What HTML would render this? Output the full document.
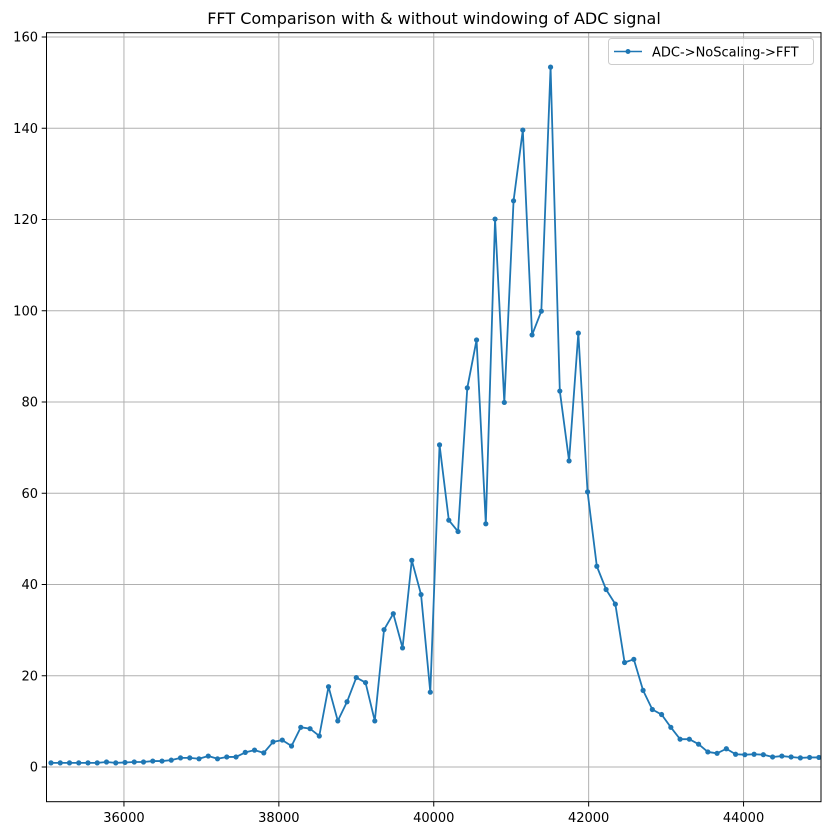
<!DOCTYPE html>
<html><head><meta charset="utf-8"><style>
html,body{margin:0;padding:0;background:#fff;}
svg{display:block;font-family:"DejaVu Sans","Liberation Sans",sans-serif;}
</style></head><body>
<svg id="chart" width="831" height="836" viewBox="0 0 831 836" xmlns="http://www.w3.org/2000/svg">
<rect width="831" height="836" fill="#fff"/>
<text x="434" y="24" text-anchor="middle" font-size="16" fill="#000">FFT Comparison with &amp; without windowing of ADC signal</text>
<g id="grid"></g>
<g id="series"></g>
<rect x="46.5" y="32.7" width="774.5" height="769" fill="none" stroke="#000" stroke-width="1"/>
<g id="ticks"></g>
<g>
<rect x="608.5" y="38.5" width="205" height="26" rx="3" fill="#fff" fill-opacity="0.8" stroke="#ccc"/>
<line x1="614" y1="51.5" x2="642" y2="51.5" stroke="#1f77b4" stroke-width="1.5"/>
<circle cx="628" cy="51.5" r="2.5" fill="#1f77b4"/>
<text x="652" y="56.5" font-size="13" fill="#000">ADC-&gt;NoScaling-&gt;FFT</text>
</g>
</svg>
<script>
const freqStart = 35058;
const freqStep = 119.45;
const magnitudes = [0.9,0.9,0.9,0.9,0.9,0.9,1.1,0.9,1.0,1.1,1.1,1.3,1.3,1.5,2.0,2.0,1.8,2.4,1.8,2.2,2.2,3.2,3.7,3.1,5.5,5.9,4.6,8.7,8.4,6.8,17.6,10.1,14.3,19.6,18.5,10.1,30.1,33.6,26.1,45.3,37.8,16.4,70.6,54.1,51.6,83.1,93.6,53.3,120.1,79.9,124.1,139.6,94.7,99.9,153.4,82.4,67.1,95.1,60.3,44.0,38.9,35.7,22.9,23.6,16.8,12.6,11.5,8.7,6.1,6.1,5.0,3.3,3.0,4.0,2.8,2.7,2.8,2.7,2.2,2.4,2.2,2.0,2.1,2.1];
const xTicks = [36000,38000,40000,42000,44000];
const yTicks = [0,20,40,60,80,100,120,140,160];
const NS="http://www.w3.org/2000/svg";
const X0=46.5,X1=821,XMIN=35000,XMAX=45000;
const Y0=767,YPX=4.5625;
function sx(v){return X0+(v-XMIN)*(X1-X0)/(XMAX-XMIN);}
function sy(v){return Y0-v*YPX;}
function mk(tag,attrs,parent){const e=document.createElementNS(NS,tag);for(const k in attrs)e.setAttribute(k,attrs[k]);parent.appendChild(e);return e;}
const grid=document.getElementById('grid'),ticks=document.getElementById('ticks'),series=document.getElementById('series');
xTicks.forEach(t=>{
  const x=sx(t);
  const g=mk('line',{x1:x,y1:32.7,x2:x,y2:801.7,stroke:'#b0b0b0','stroke-width':1},grid);
  
  
  mk('line',{x1:x,y1:801.7,x2:x,y2:806.5,stroke:'#000'},ticks);
  const tx=mk('text',{x:x,y:822,'text-anchor':'middle','font-size':13,fill:'#000'},ticks);
  tx.textContent=t;
  
  
});
yTicks.forEach(t=>{
  const y=sy(t);
  const g=mk('line',{x1:46.5,y1:y,x2:821,y2:y,stroke:'#b0b0b0','stroke-width':1},grid);
  
  
  mk('line',{x1:41.7,y1:y,x2:46.5,y2:y,stroke:'#000'},ticks);
  const tx=mk('text',{x:38,y:y+4.5,'text-anchor':'end','font-size':13,fill:'#000'},ticks);
  tx.textContent=t;
  
  
});
const pts=magnitudes.map((v,i)=>[sx(freqStart+i*freqStep),sy(v)]);
const line=mk('polyline',{points:pts.map(p=>p[0].toFixed(2)+','+p[1].toFixed(2)).join(' '),fill:'none',stroke:'#1f77b4','stroke-width':1.8,'stroke-linejoin':'round'},series);


pts.forEach(p=>{
  const c=mk('circle',{cx:p[0],cy:p[1],r:2.6,fill:'#1f77b4'},series);
  
  
});
</script>
</body></html>
